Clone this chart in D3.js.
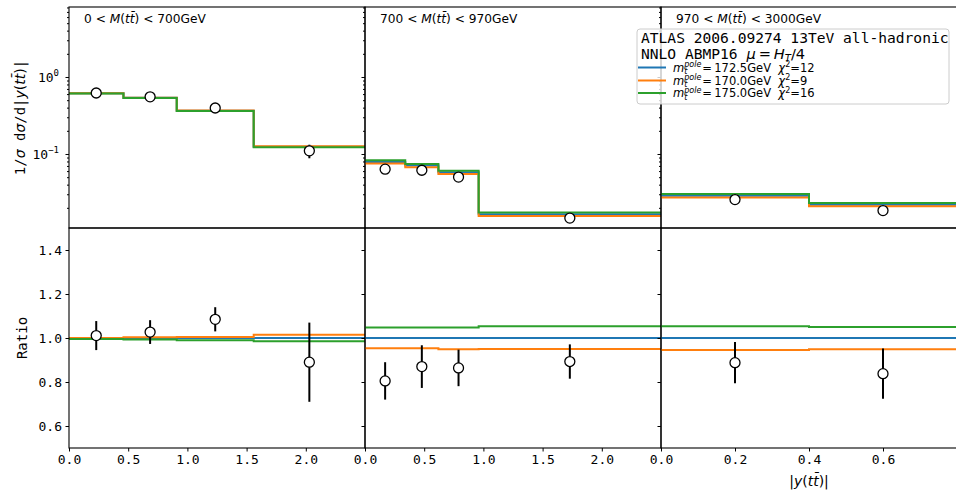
<!DOCTYPE html>
<html>
<head>
<meta charset="utf-8">
<script src="https://d3js.org/d3.v7.min.js"></script>
<style>
  body { margin: 0; background: #fff; }
  text { font-family: "DejaVu Sans Mono", monospace; fill: #000; }
</style>
</head>
<body>
<svg id="chart" width="956" height="492"></svg>
<script>
// mass bins
const titles = [["0", "700"], ["700", "970"], ["970", "3000"]];
const binEdges = [[0, 0.46, 0.91, 1.56, 2.5], [0, 0.34, 0.62, 0.96, 2.5], [0, 0.4, 0.8]];
const xDomains = [[0, 2.5], [0, 2.5], [0, 0.8]];
const xTicks = [[0, 0.5, 1.0, 1.5, 2.0], [0, 0.5, 1.0, 1.5, 2.0], [0, 0.2, 0.4, 0.6]];

// predictions (top panels)
const predBlue   = [[0.614, 0.538, 0.365, 0.124], [0.0790, 0.0707, 0.0580, 0.0165], [0.0288, 0.0220]];
const predOrange = [[0.614, 0.539, 0.367, 0.126], [0.0753, 0.0674, 0.0551, 0.0157], [0.0272, 0.0209]];
const predGreen  = [[0.611, 0.534, 0.361, 0.122], [0.0828, 0.0741, 0.0608, 0.0174], [0.0303, 0.0231]];

// measured data
const dataX   = [[0.23, 0.685, 1.235, 2.03], [0.17, 0.48, 0.79, 1.73], [0.2, 0.6]];
const dataVal = [[0.620, 0.553, 0.396, 0.110], [0.0636, 0.0615, 0.0501, 0.0147], [0.0256, 0.0184]];
const dataErr = [[0.040, 0.029, 0.020, 0.022], [0.0067, 0.0069, 0.0048, 0.0013], [0.0027, 0.0025]];

// ratios to m=172.5 (bottom panels)
const ratioBlue   = [[1, 1, 1, 1], [1, 1, 1, 1], [1, 1]];
const ratioOrange = [[1.000, 1.003, 1.005, 1.015], [0.953, 0.953, 0.949, 0.950], [0.946, 0.949]];
const ratioGreen  = [[0.995, 0.993, 0.990, 0.985], [1.048, 1.048, 1.048, 1.053], [1.053, 1.050]];
const ratioData   = [[1.011, 1.027, 1.085, 0.890], [0.805, 0.870, 0.864, 0.893], [0.888, 0.838]];
const ratioErr    = [[0.066, 0.054, 0.055, 0.180], [0.085, 0.097, 0.083, 0.078], [0.094, 0.114]];

const massLabels = ["172.5", "170.0", "175.0"];
const chi2Labels = ["12", "9", "16"];
const colors = ["#1f77b4", "#ff7f0e", "#2ca02c"];

const leftX = 69, panelW = 296, topY = 7, midY = 228, botY = 448;
const svg = d3.select("#chart");

const yTop = d3.scaleLog().domain([Math.pow(10, -1.961), Math.pow(10, 0.909)]).range([midY, topY]);
const yRat = d3.scaleLinear().domain([0.5, 1.5]).range([botY, midY]);

const majorLog = [0.1, 1];
const minorLog = [];
[0.01, 0.1, 1].forEach(function(d) {
    for (let k = 2; k <= 9; k++) {
        const v = d * k;
        if (v > yTop.domain()[0] && v < yTop.domain()[1]) minorLog.push(v);
    }
});

function stepPoints(edges, vals) {
    const pts = vals.map((v, i) => [edges[i], v]);
    pts.push([edges[edges.length - 1], vals[vals.length - 1]]);
    return pts;
}

function styleAxis(g) {
    g.select(".domain").remove();
    g.selectAll(".tick line").attr("stroke", "#000").attr("stroke-width", 1);
    g.selectAll(".tick text").style("font-family", "DejaVu Sans Mono").style("font-size", "13px").attr("fill", "#000");
}

for (let p = 0; p < 3; p++) {
    const x0 = leftX + p * panelW;
    const x = d3.scaleLinear().domain(xDomains[p]).range([x0, x0 + panelW]);

    svg.append("clipPath").attr("id", "clipT" + p)
        .append("rect").attr("x", x0).attr("y", topY).attr("width", panelW).attr("height", midY - topY);
    svg.append("clipPath").attr("id", "clipB" + p)
        .append("rect").attr("x", x0).attr("y", midY).attr("width", panelW).attr("height", botY - midY);

    // top panel
    const gt = svg.append("g").attr("clip-path", "url(#clipT" + p + ")");
    const lineT = d3.line().x(d => x(d[0])).y(d => yTop(d[1])).curve(d3.curveStepAfter);
    [predBlue, predOrange, predGreen].forEach(function(arr, k) {
        gt.append("path").datum(stepPoints(binEdges[p], arr[p]))
            .attr("fill", "none").attr("stroke", colors[k]).attr("stroke-width", 2)
            .attr("d", lineT);
    });
    dataVal[p].forEach(function(v, i) {
        gt.append("line")
            .attr("x1", x(dataX[p][i])).attr("x2", x(dataX[p][i]))
            .attr("y1", yTop(v - dataErr[p][i])).attr("y2", yTop(v + dataErr[p][i]))
            .attr("stroke", "#000").attr("stroke-width", 2);
    });
    gt.selectAll("circle.pt").data(dataVal[p]).enter().append("circle")
        .attr("cx", (d, i) => x(dataX[p][i])).attr("cy", d => yTop(d)).attr("r", 5)
        .attr("fill", "#fff").attr("stroke", "#000").attr("stroke-width", 1.3);

    // bottom panel
    const gb = svg.append("g").attr("clip-path", "url(#clipB" + p + ")");
    const lineB = d3.line().x(d => x(d[0])).y(d => yRat(d[1])).curve(d3.curveStepAfter);
    [ratioBlue, ratioOrange, ratioGreen].forEach(function(arr, k) {
        gb.append("path").datum(stepPoints(binEdges[p], arr[p]))
            .attr("fill", "none").attr("stroke", colors[k]).attr("stroke-width", 2)
            .attr("d", lineB);
    });
    ratioData[p].forEach(function(v, i) {
        gb.append("line")
            .attr("x1", x(dataX[p][i])).attr("x2", x(dataX[p][i]))
            .attr("y1", yRat(v - ratioErr[p][i])).attr("y2", yRat(v + ratioErr[p][i]))
            .attr("stroke", "#000").attr("stroke-width", 2);
    });
    gb.selectAll("circle.pt").data(ratioData[p]).enter().append("circle")
        .attr("cx", (d, i) => x(dataX[p][i])).attr("cy", d => yRat(d)).attr("r", 5)
        .attr("fill", "#fff").attr("stroke", "#000").attr("stroke-width", 1.3);

    // y axes
    svg.append("g").attr("transform", `translate(${x0},0)`)
        .call(d3.axisLeft(yTop).tickValues(majorLog).tickSize(3.5).tickFormat(""))
        .call(styleAxis);
    svg.append("g").attr("transform", `translate(${x0},0)`)
        .call(d3.axisLeft(yTop).tickValues(minorLog).tickSize(2).tickFormat(""))
        .call(styleAxis);
    svg.append("g").attr("transform", `translate(${x0},0)`)
        .call(d3.axisLeft(yRat).tickValues([0.6, 0.8, 1.0, 1.2, 1.4]).tickSize(3.5).tickPadding(3.5)
            .tickFormat(p === 0 ? d3.format(".1f") : ""))
        .call(styleAxis);

    // x axis
    svg.append("g").attr("transform", `translate(0,${botY})`)
        .call(d3.axisBottom(x).tickValues(xTicks[p]).tickSize(3.5).tickPadding(3.5).tickFormat(d3.format(".1f")))
        .call(styleAxis);

    // frames
    svg.append("rect").attr("x", x0).attr("y", topY).attr("width", panelW).attr("height", midY - topY)
        .attr("fill", "none").attr("stroke", "#000").attr("stroke-width", 1.1);
    svg.append("rect").attr("x", x0).attr("y", midY).attr("width", panelW).attr("height", botY - midY)
        .attr("fill", "none").attr("stroke", "#000").attr("stroke-width", 1.1);

    // panel title
    const tt = svg.append("text").attr("x", x0 + 15).attr("y", 22.5)
        .style("font-family", "DejaVu Sans").style("font-size", "12.2px");
    tt.append("tspan").text(titles[p][0] + " < ");
    tt.append("tspan").style("font-style", "italic").text("M");
    tt.append("tspan").text("(");
    tt.append("tspan").style("font-style", "italic").text("tt\u0304");
    tt.append("tspan").text(") < " + titles[p][1] + "GeV");
}

// log tick labels
[[1, "0"], [0.1, "\u22121"]].forEach(function(d) {
    const t = svg.append("text").attr("x", 59).attr("y", yTop(d[0]) + 5)
        .attr("text-anchor", "end").style("font-size", "13px");
    t.append("tspan").text("10");
    t.append("tspan").attr("dy", -6).style("font-size", "9px").text(d[1]);
});

// y labels
const yl = svg.append("text").attr("transform", "translate(25,117.5) rotate(-90)")
    .attr("text-anchor", "middle").style("font-size", "14px");
yl.append("tspan").text("1/");
yl.append("tspan").style("font-family", "DejaVu Sans").style("font-style", "italic").text("\u03c3");
yl.append("tspan").text("\u00a0d");
yl.append("tspan").style("font-family", "DejaVu Sans").style("font-style", "italic").text("\u03c3");
yl.append("tspan").text("/d|");
yl.append("tspan").style("font-family", "DejaVu Sans").style("font-style", "italic").text("y");
yl.append("tspan").style("font-family", "DejaVu Sans").text("(");
yl.append("tspan").style("font-family", "DejaVu Sans").style("font-style", "italic").text("tt\u0304");
yl.append("tspan").style("font-family", "DejaVu Sans").text(")");
yl.append("tspan").text("|");

svg.append("text").attr("transform", "translate(27,338) rotate(-90)")
    .attr("text-anchor", "middle").style("font-size", "14px").text("Ratio");

// x label
const xl = svg.append("text").attr("x", leftX + 2.5 * panelW).attr("y", 486)
    .attr("text-anchor", "middle").style("font-family", "DejaVu Sans").style("font-size", "14px");
xl.append("tspan").text("|");
xl.append("tspan").style("font-style", "italic").text("y");
xl.append("tspan").text("(");
xl.append("tspan").style("font-style", "italic").text("tt\u0304");
xl.append("tspan").text(")|");

// legend
const lg = svg.append("g");
lg.append("rect").attr("x", 637).attr("y", 29).attr("width", 312).attr("height", 75).attr("rx", 3)
    .attr("fill", "#fff").attr("fill-opacity", 0.8).attr("stroke", "#ccc").attr("stroke-width", 1);
lg.append("text").attr("x", 641).attr("y", 42.5).style("font-size", "14.6px")
    .text("ATLAS 2006.09274 13TeV all-hadronic");
const l2 = lg.append("text").attr("x", 641).attr("y", 58.5).style("font-size", "14.6px");
l2.append("tspan").text("NNLO ABMP16 ");
l2.append("tspan").style("font-family", "DejaVu Sans").style("font-style", "italic").text("\u03bc");
l2.append("tspan").style("font-family", "DejaVu Sans").text("\u2009=\u2009");
l2.append("tspan").style("font-family", "DejaVu Sans").style("font-style", "italic").text("H");
l2.append("tspan").attr("dy", 3).style("font-family", "DejaVu Sans").style("font-style", "italic").style("font-size", "10px").text("T");
l2.append("tspan").attr("dy", -3).style("font-family", "DejaVu Sans").text("/4");

const entryY = [67.5, 80.5, 93];
massLabels.forEach(function(m, i) {
    const y = entryY[i];
    lg.append("line").attr("x1", 638).attr("x2", 666).attr("y1", y).attr("y2", y)
        .attr("stroke", colors[i]).attr("stroke-width", 2);
    const tx = 673, by = y + 4;
    const tm = lg.append("text").attr("x", tx).attr("y", by)
        .style("font-family", "DejaVu Sans").style("font-size", "11.5px").style("font-style", "italic").text("m");
    const wm = tm.node().getComputedTextLength();
    const ts = lg.append("text").attr("x", tx + wm).attr("y", by - 4.5)
        .style("font-family", "DejaVu Sans").style("font-size", "8px").style("font-style", "italic").text("pole");
    lg.append("text").attr("x", tx + wm).attr("y", by + 2.5)
        .style("font-family", "DejaVu Sans").style("font-size", "8px").style("font-style", "italic").text("t");
    const ws = ts.node().getComputedTextLength();
    const tr = lg.append("text").attr("x", tx + wm + ws + 1).attr("y", by)
        .style("font-family", "DejaVu Sans").style("font-size", "11.5px");
    tr.append("tspan").text("=\u2009" + m + "GeV\u00a0\u00a0");
    tr.append("tspan").style("font-style", "italic").text("\u03c7");
    tr.append("tspan").attr("dy", -4.5).style("font-size", "8px").text("2");
    tr.append("tspan").attr("dy", 4.5).text("=" + chi2Labels[i]);
});
</script>
</body>
</html>
